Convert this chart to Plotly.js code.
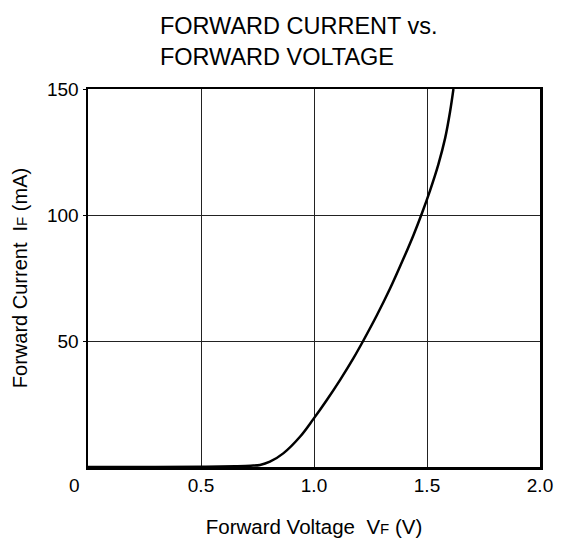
<!DOCTYPE html>
<html>
<head>
<meta charset="utf-8">
<script src="https://cdn.plot.ly/plotly-3.0.1.min.js"></script>
<style>html,body{margin:0;padding:0;background:#fff;}#chart{width:567px;height:545px;}</style>
</head>
<body>
<div id="chart"></div>
<script>
const voltage = [0, 0.3, 0.5, 0.65, 0.72, 0.761, 0.805, 0.864, 0.938, 0.997, 1.056, 1.115, 1.174, 1.218, 1.277, 1.336, 1.395, 1.440, 1.478, 1.513, 1.550, 1.580, 1.602, 1.617];
const current = [0, 0, 0.1, 0.3, 0.5, 0.8, 2.1, 5.4, 12.0, 19.0, 26.5, 34.5, 43.1, 50.1, 60.0, 70.7, 82.5, 92.0, 100.8, 109.6, 120.0, 130.4, 141, 150];
const xTickVals = [0.5, 1.0, 1.5, 2.0];
const xTickText = ['0.5', '1.0', '1.5', '2.0'];
const yTickVals = [50, 100, 150];
const yTickText = ['50', '100', '150'];

const font = 'Liberation Sans, Arial, sans-serif';

const trace = {
  x: voltage, y: current, type: 'scatter', mode: 'lines',
  line: {color: '#000', width: 2.5, shape: 'spline', smoothing: 1},
  hoverinfo: 'skip'
};

const layout = {
  width: 567, height: 545,
  margin: {l: 88, r: 27, t: 89, b: 78},
  paper_bgcolor: '#fff', plot_bgcolor: '#fff',
  showlegend: false,
  font: {family: font, color: '#000', size: 19},
  title: {
    text: 'FORWARD CURRENT vs.<br>FORWARD VOLTAGE',
    font: {family: font, size: 23.5, color: '#000'},
    xref: 'container', yref: 'container',
    x: 0.282, xanchor: 'left', y: 0.9376, yanchor: 'bottom'
  },
  xaxis: {
    range: [0, 2.0], tickvals: xTickVals, ticktext: xTickText,
    showgrid: true, gridcolor: '#222', gridwidth: 1,
    showline: true, linecolor: '#000', linewidth: 2.5, mirror: true,
    ticks: '', zeroline: false, fixedrange: true,
    tickfont: {family: font, size: 19, color: '#000'},
    title: {text: 'Forward Voltage  V<span style="font-size:15px">F</span> (V)', font: {family: font, size: 20.5, color: '#000'}, standoff: 25}
  },
  yaxis: {
    range: [0, 150], tickvals: yTickVals, ticktext: yTickText,
    showgrid: true, gridcolor: '#222', gridwidth: 1,
    showline: true, linecolor: '#000', linewidth: 2.5, mirror: true,
    ticks: 'outside', ticklen: 3, tickcolor: '#000', zeroline: false, fixedrange: true,
    tickfont: {family: font, size: 19, color: '#000'},
    title: {text: 'Forward Current  I<span style="font-size:15px">F</span> (mA)', font: {family: font, size: 20, color: '#000'}, standoff: 14}
  },
  annotations: [{
    text: '0', xref: 'paper', yref: 'paper', x: -0.029, y: 0, yshift: -18,
    showarrow: false, xanchor: 'center', yanchor: 'middle',
    font: {family: font, size: 19, color: '#000'}
  }]
};

Plotly.newPlot('chart', [trace], layout, {displayModeBar: false, staticPlot: true});
</script>
</body>
</html>
